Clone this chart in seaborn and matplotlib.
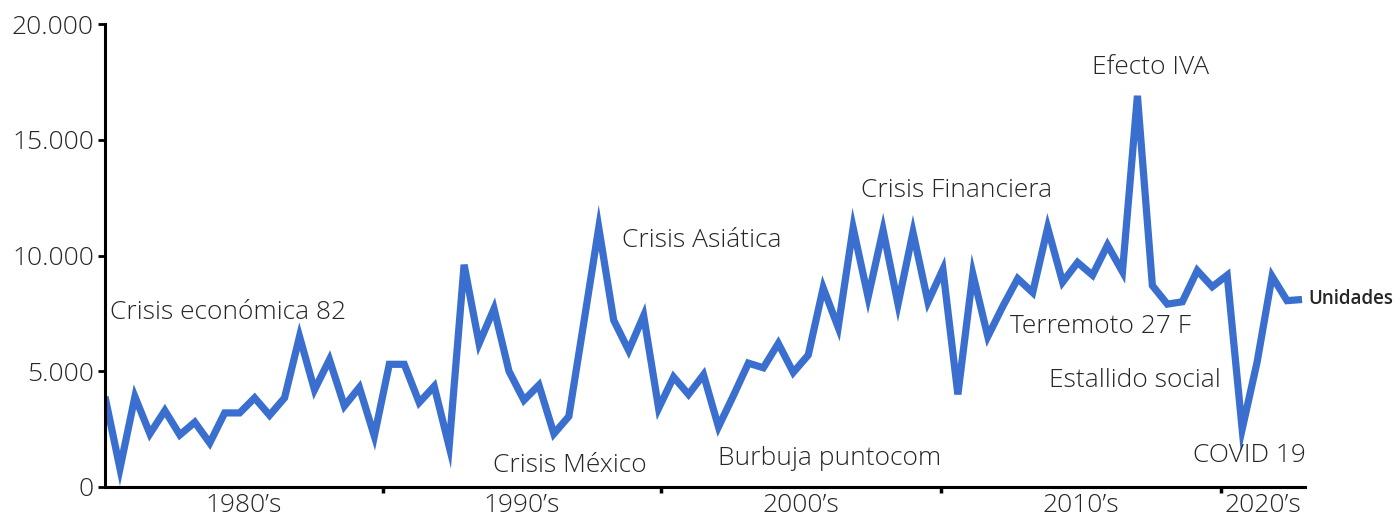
import matplotlib
matplotlib.use("Agg")
import matplotlib.pyplot as plt
import seaborn as sns
import pandas as pd
from matplotlib.ticker import FuncFormatter, FixedLocator

# semiannual sales (units), 81 points
unidades = [
    3900, 800, 3900, 2300, 3300, 2250, 2800, 1900, 3200, 3200,
    3850, 3100, 3850, 6500, 4200, 5500, 3500, 4300, 2200, 5300,
    5300, 3650, 4350, 1750, 9600, 6200, 7700, 5000, 3750, 4400,
    2300, 3050, 7100, 11200, 7200, 5900, 7400, 3400, 4750, 4000,
    4850, 2600, 3950, 5350, 5150, 6200, 4950, 5700, 8600, 6900,
    11200, 8200, 11100, 7900, 11000, 8000, 9400, 4000, 9200, 6500,
    7800, 9000, 8400, 11200, 8850, 9700, 9150, 10450, 9300, 16900,
    8700, 7900, 8000, 9350, 8650, 9150, 2500, 5400, 9100, 8050,
    8100,
]
periodo = list(range(len(unidades)))

# decade boundaries (in period index) and labels
decadas_lim = [0, 18.57, 37.14, 55.9, 74.6, 80.2]
decadas = ["1980\u2019s", "1990\u2019s", "2000\u2019s", "2010\u2019s", "2020\u2019s"]

# events: text, period index, value
eventos = [
    ("Crisis económica 82", 8.2, 7520),
    ("Crisis Asiática", 39.9, 10630),
    ("Crisis México", 31.05, 910),
    ("Burbuja puntocom", 48.4, 1250),
    ("Crisis Financiera", 56.9, 12790),
    ("Efecto IVA", 69.85, 18140),
    ("Terremoto 27 F", 66.5, 6950),
    ("Estallido social", 68.85, 4580),
    ("COVID 19", 76.5, 1340),
]

df = pd.DataFrame({"periodo": periodo, "Unidades": unidades})

sns.set_style("ticks")
plt.rcParams["font.family"] = ["Open Sans", "DejaVu Sans"]

fig = plt.figure(figsize=(14, 5.19), dpi=100)
ax = fig.add_axes([105 / 1400, 32 / 519, 1200 / 1400, 463 / 519])

sns.lineplot(data=df, x="periodo", y="Unidades", color="#3A6FD0",
             linewidth=5.2, ax=ax, legend=False)
ax.lines[0].set_solid_joinstyle("miter")
ax.lines[0].set_solid_capstyle("butt")

ax.set_xlim(0, decadas_lim[-1])
ax.set_ylim(0, 20000)

ax.set_yticks([0, 5000, 10000, 15000, 20000])
ax.yaxis.set_major_formatter(FuncFormatter(lambda v, p: f"{int(v):,}".replace(",", ".")))

# decade separators as major ticks, labels on minor ticks at the middle
ax.xaxis.set_major_locator(FixedLocator(decadas_lim[1:-1]))
ax.set_xticklabels([])
centros = [(a + b) / 2 for a, b in zip(decadas_lim[:-1], decadas_lim[1:])]
ax.xaxis.set_minor_locator(FixedLocator(centros))
ax.set_xticklabels(decadas, minor=True)
ax.tick_params(axis="x", which="minor", length=0, pad=4, labelsize=19, colors="#262626")
ax.tick_params(axis="x", which="major", length=4.5, width=2.5, color="black")
ax.tick_params(axis="y", length=5, width=2, color="black", labelsize=19,
               labelcolor="#262626", pad=3)

for lbl in ax.get_xticklabels(minor=True) + ax.get_yticklabels():
    lbl.set_fontweight("light")

for s in ["top", "right"]:
    ax.spines[s].set_visible(False)
for s in ["left", "bottom"]:
    ax.spines[s].set_linewidth(2.2)
    ax.spines[s].set_color("black")

ax.set_xlabel("")
ax.set_ylabel("")

for texto, xi, yi in eventos:
    ax.text(xi, yi, texto, ha="center", va="center", fontsize=19,
            fontweight="light", color="#262626")

ax.text(periodo[-1] + 0.45, unidades[-1], "Unidades", ha="left", va="center",
        fontsize=13.5, fontweight="semibold", color="#262626", clip_on=False)

fig.savefig("out.png", dpi=100)
